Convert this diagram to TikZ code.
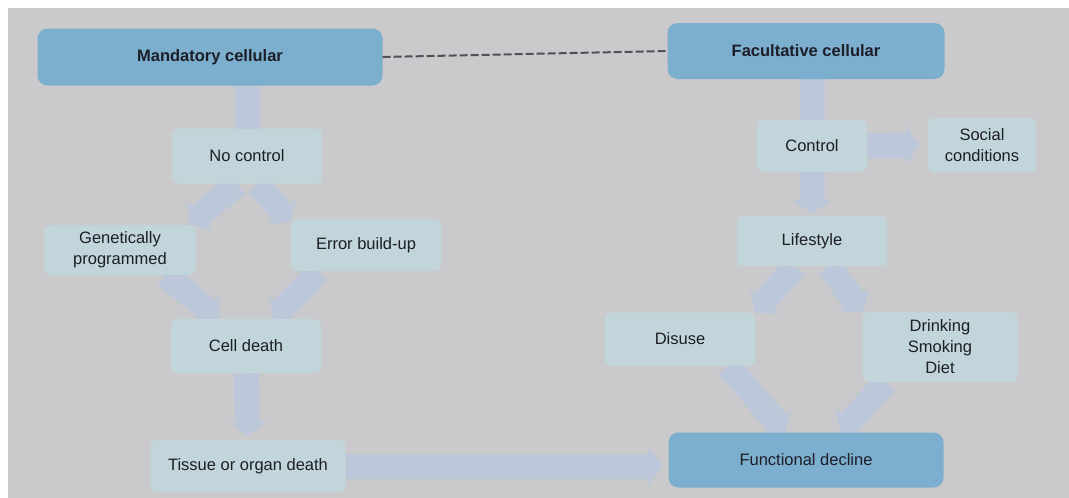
\documentclass[tikz,border=0pt]{standalone}
\usepackage{fontspec}
\setmainfont{Liberation Sans}
\usetikzlibrary{arrows.meta,backgrounds}

\definecolor{bggray}{RGB}{202,202,204}
\definecolor{boxdark}{RGB}{124,174,206}
\definecolor{boxlight}{RGB}{194,213,219}
\definecolor{arrowcol}{RGB}{188,199,217}
\definecolor{inkcol}{RGB}{28,30,40}
\definecolor{dashcol}{RGB}{80,80,86}

\tikzset{
  darkbox/.style={rectangle, rounded corners=10pt, fill=boxdark, text=inkcol,
    inner sep=0pt, align=center, font=\fontsize{16.5}{21}\selectfont},
  lightbox/.style={rectangle, rounded corners=6pt, fill=boxlight, text=inkcol,
    inner sep=0pt, align=center, font=\fontsize{16.5}{21}\selectfont},
  fatarrow/.style={draw=arrowcol, line width=25pt,
    -{Triangle[length=14pt,width=38pt]}},
}

\begin{document}
\begin{tikzpicture}[x=1pt,y=-1pt]
        \useasboundingbox (0,0) rectangle (1069,498);

        \node[darkbox, minimum width=345pt, minimum height=57pt] (mand) at (210,57) {\bfseries Mandatory cellular};
        \node[darkbox, minimum width=277pt, minimum height=56pt] (facu) at (806,51) {\bfseries Facultative cellular};
        \node[darkbox, minimum width=275pt, minimum height=55pt] (funct) at (806,460) {Functional decline};

        \node[lightbox, minimum width=150pt, minimum height=55pt] (noctl) at (247,156) {No control};
        \node[lightbox, minimum width=152pt, minimum height=50pt] (genet) at (120,250) {Genetically\\programmed};
        \node[lightbox, minimum width=150pt, minimum height=52pt] (error) at (366,245) {Error build-up};
        \node[lightbox, minimum width=150pt, minimum height=54pt] (celld) at (246,346) {Cell death};
        \node[lightbox, minimum width=195pt, minimum height=52pt] (tissue) at (248,466) {Tissue or organ death};

        \node[lightbox, minimum width=110pt, minimum height=52pt] (ctrl) at (812,146) {Control};
        \node[lightbox, minimum width=108pt, minimum height=54pt] (social) at (982,145) {Social\\conditions};
        \node[lightbox, minimum width=150pt, minimum height=50pt] (life) at (812,241) {Lifestyle};
        \node[lightbox, minimum width=150pt, minimum height=53pt] (disuse) at (680,339) {Disuse};
        \node[lightbox, minimum width=155pt, minimum height=70pt] (drink) at (940,347) {Drinking\\Smoking\\Diet};

        \draw[dashcol, line width=2pt, dash pattern=on 8pt off 3pt] (mand.east) -- (facu.west);

        \begin{scope}[on background layer]
        \fill[white] (0,0) rectangle (1069,498);
        \fill[bggray] (8,8) rectangle (1069,498);

        \draw[fatarrow] (noctl.north |- mand.south) -- (noctl.center);
        \draw[fatarrow] (noctl.250) -- (genet.20);
        \draw[fatarrow] (noctl.290) -- (error.163);
        \draw[fatarrow] (genet.-29) -- (celld.135);
        \draw[fatarrow] (error.209) -- (celld.45);
        \draw[fatarrow, shorten >=4pt] (celld.south) -- (tissue.north);
        \draw[fatarrow, shorten >=6pt] (tissue.east) -- (tissue.east -| funct.west);

        \draw[fatarrow] (ctrl.north |- facu.south) -- (ctrl.center);
        \draw[fatarrow, shorten >=8pt] (ctrl.east) -- (social.west);
        \draw[fatarrow, shorten >=2pt] (ctrl.south) -- (life.north);
        \draw[fatarrow] (life.236) -- (disuse.north east);
        \draw[fatarrow] (life.-56) -- (drink.north west);
        \draw[fatarrow] (disuse.-29) -- (funct.127);
        \draw[fatarrow] (drink.213) -- (funct.39);
        \end{scope}

        \end{tikzpicture}
\end{document}
